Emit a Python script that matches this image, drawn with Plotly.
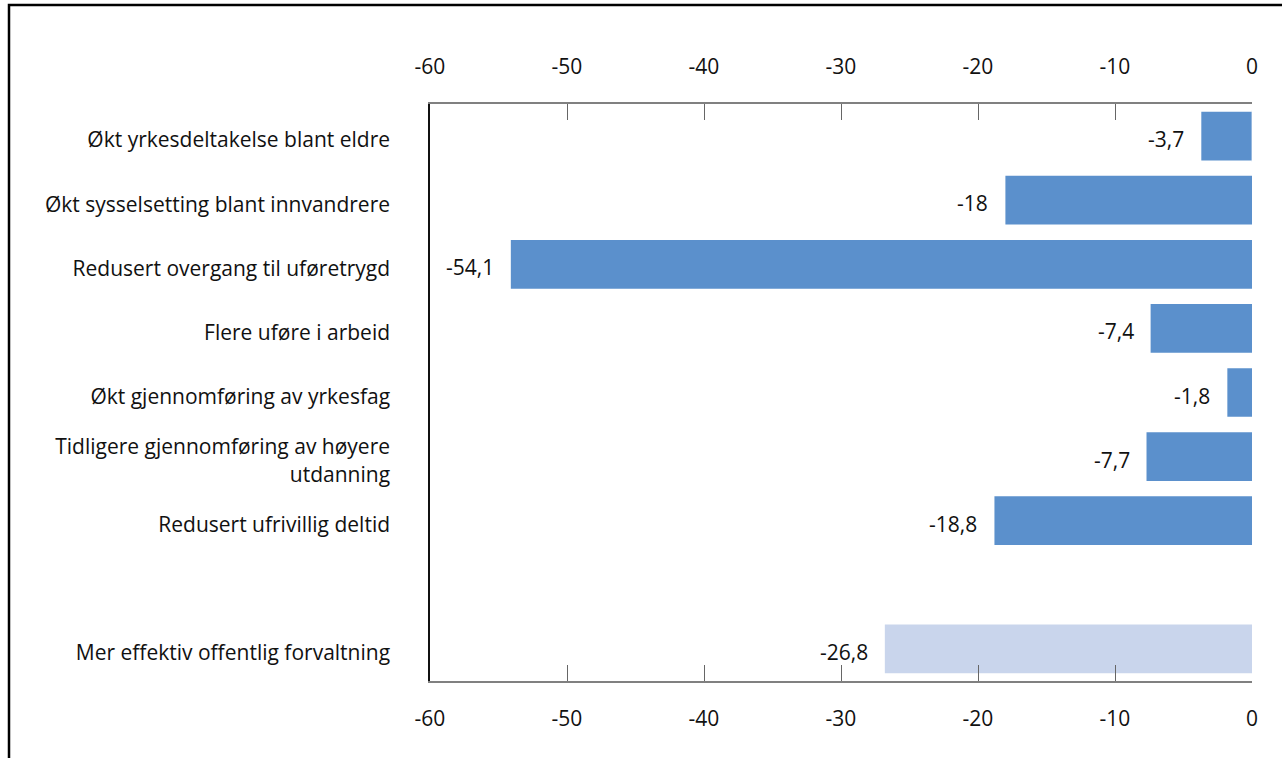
import plotly.graph_objects as go

categories = [
    "Økt yrkesdeltakelse blant eldre",
    "Økt sysselsetting blant innvandrere",
    "Redusert overgang til uføretrygd",
    "Flere uføre i arbeid",
    "Økt gjennomføring av yrkesfag",
    "Tidligere gjennomføring av høyere<br>utdanning",
    "Redusert ufrivillig deltid",
]
values = [-3.7, -18, -54.1, -7.4, -1.8, -7.7, -18.8]
gap_category = " "
extra_category = ["Mer effektiv offentlig forvaltning"]
extra_values = [-26.8]
tick_values = [-60, -50, -40, -30, -20, -10, 0]

all_categories = categories + [gap_category] + extra_category


def fmt(v):
    return f"{v:g}".replace(".", ",")


FONT = "Open Sans"
FS = 21
W, H = 1282, 758
L, R, T, B = 430, 1252, 104, 681

fig = go.Figure()
fig.add_trace(go.Bar(
    y=categories, x=values, orientation="h",
    marker=dict(color="#5b90cc", line=dict(width=0)),
    width=0.76, showlegend=False,
))
fig.add_trace(go.Bar(
    y=extra_category, x=extra_values, orientation="h",
    marker=dict(color="#c9d5ec", line=dict(width=0)),
    width=0.76, showlegend=False,
))
# invisible trace on top axis to activate it
fig.add_trace(go.Bar(y=[categories[0]], x=[0], orientation="h", xaxis="x2",
                     marker=dict(color="rgba(0,0,0,0)"), showlegend=False,
                     hoverinfo="skip"))

annotations = []
for cat, v in list(zip(categories, values)) + list(zip(extra_category, extra_values)):
    annotations.append(dict(
        x=v, y=cat, xref="x", yref="y", text=fmt(v), showarrow=False,
        xanchor="right", yanchor="middle", xshift=-15, yshift=-3,
        font=dict(size=FS, color="#111111", family=FONT),
    ))

axis_common = dict(
    range=[-60, 0], tickvals=tick_values, ticktext=[str(t) for t in tick_values],
    ticks="inside", ticklen=16, tickcolor="#666666", tickwidth=1,
    showline=True, linecolor="#808080", linewidth=1.5,
    showgrid=False, zeroline=False,
    tickfont=dict(size=FS, color="#111111", family=FONT),
)

fig.update_layout(
    width=W, height=H,
    margin=dict(l=L, r=W - R, t=T, b=H - B, pad=0),
    paper_bgcolor="white", plot_bgcolor="white",
    font=dict(family=FONT, size=FS, color="#111111"),
    barmode="overlay",
    xaxis=dict(side="bottom", ticklabelstandoff=18, **axis_common),
    xaxis2=dict(side="top", overlaying="x", matches="x", ticklabelstandoff=20, **axis_common),
    yaxis=dict(
        type="category", categoryorder="array", categoryarray=all_categories,
        range=[len(all_categories) - 0.5, -0.5],
        showline=True, linecolor="#111111", linewidth=1.5,
        ticks="", showgrid=False, zeroline=False,
        tickfont=dict(size=FS, color="#111111", family=FONT),
        ticklabelstandoff=34, ticklabelshift=-4,
    ),
    annotations=annotations,
    shapes=[dict(
        type="rect", xref="paper", yref="paper",
        x0=(9 - L) / (R - L), x1=(1300 - L) / (R - L),
        y0=(B - 780) / (B - T), y1=(B - 5) / (B - T),
        line=dict(color="#000000", width=2.5), fillcolor="rgba(0,0,0,0)",
        layer="above",
    )],
)

fig.write_html(
    "out.html",
    config={"displayModeBar": False},
    post_script="document.body.style.margin='0px';document.body.style.overflow='hidden';",
)
